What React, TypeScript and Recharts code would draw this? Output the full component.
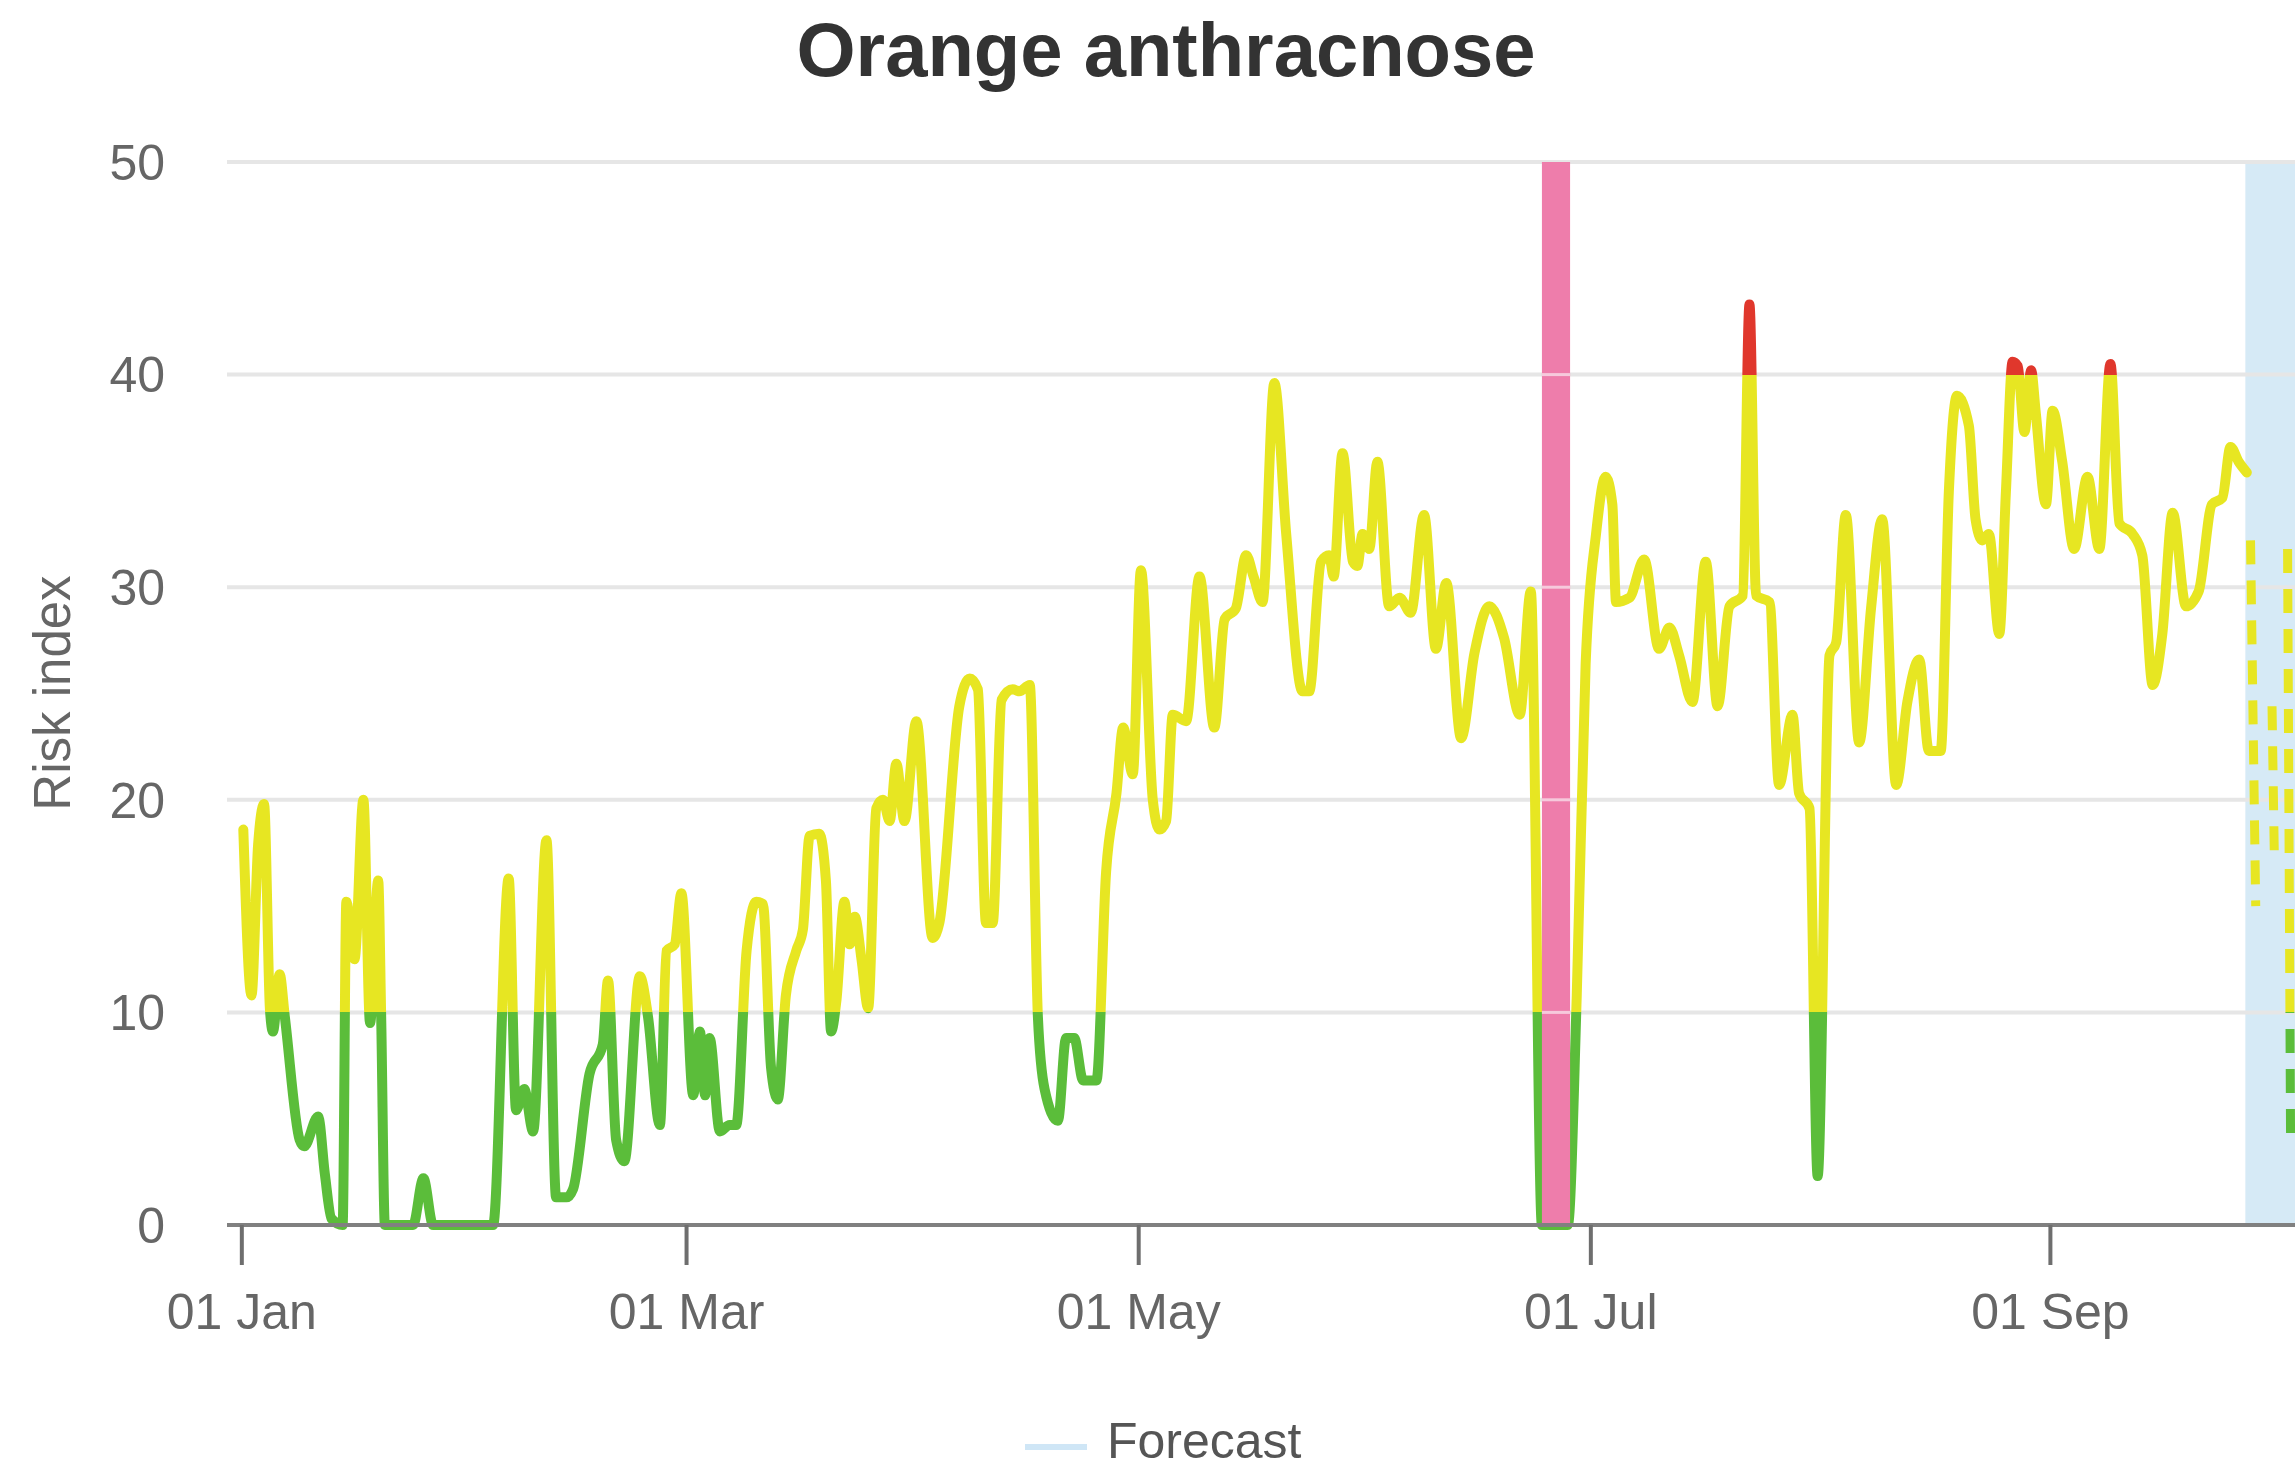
import React from "react"
import { LineChart, Line, XAxis, YAxis, CartesianGrid, ReferenceArea, ReferenceLine } from "recharts"

// day 0 = 01 Jan (leap year)
const days = [
  0.2, 1.3, 2.2, 3.0, 3.8, 4.2, 5.1, 5.8, 7.8, 8.4,
  10.3, 11.2, 12.1, 13.6, 14.1, 15.2, 16.4, 17.3, 18.4, 18.8,
  19.3, 23.1, 24.5, 25.8, 33.9, 36.0, 37.0, 38.1, 39.3, 41.1,
  42.4, 43.8, 44.7, 46.9, 48.7, 49.4, 50.5, 51.6, 53.7, 54.8,
  56.4, 57.3, 58.4, 59.3, 60.9, 61.8, 62.5, 63.1, 64.5, 65.8,
  66.7, 68.1, 69.4, 70.3, 71.4, 72.3, 73.4, 74.8, 75.7, 76.6,
  77.9, 78.8, 79.5, 80.2, 81.3, 82.0, 82.7, 83.6, 84.5, 85.6,
  86.5, 87.4, 88.3, 89.4, 91.0, 93.2, 94.1, 96.8, 98.2, 99.3,
  100.4, 101.3, 102.5, 104.0, 104.9, 106.3, 107.4, 108.3, 110.1, 111.2,
  112.3, 113.5, 115.3, 116.6, 118.0, 118.9, 120.2, 121.3, 122.9, 123.8,
  124.7, 125.6, 127.4, 129.2, 131.2, 132.6, 134.1, 135.5, 136.5, 137.7,
  139.3, 140.9, 143.1, 144.0, 145.6, 146.7, 147.3, 148.5, 149.9, 150.5,
  151.2, 152.1, 153.2, 154.8, 156.2, 157.7, 159.5, 161.1, 162.5, 164.5,
  166.3, 168.3, 170.3, 172.4, 173.9, 175.4, 178.9, 180.1, 181.3, 182.7,
  184.0, 184.9, 185.4, 187.2, 189.2, 191.2, 192.6, 193.9, 195.7, 197.5,
  199.1, 200.7, 202.5, 203.4, 204.3, 206.1, 207.4, 209.2, 210.1, 211.5,
  212.6, 214.2, 215.1, 216.4, 218.2, 219.8, 221.3, 223.2, 224.7, 226.3,
  227.6, 229.2, 230.3, 231.4, 233.0, 233.9, 234.8, 235.7, 237.1, 238.0,
  238.9, 239.6, 240.5, 241.4, 242.0, 243.4, 244.3, 245.6, 247.2, 249.0,
  250.6, 252.1, 253.3, 255.1, 256.4, 257.8, 259.1, 260.5, 262.3, 264.0,
  265.8, 267.2, 268.3, 269.4, 270.5,
]

const risk = [
  18.6, 10.8, 17.9, 19.8, 10.1, 9.1, 11.8, 9.8, 4.0, 3.7,
  5.1, 2.4, 0.3, 0, 15.2, 12.5, 20.0, 9.5, 16.2, 9.8,
  0, 0, 2.2, 0, 0, 16.3, 5.4, 6.4, 4.4, 18.1,
  1.3, 1.3, 1.7, 7.1, 8.5, 11.5, 4.0, 3.0, 11.7, 9.8,
  4.7, 12.9, 13.2, 15.6, 6.1, 9.1, 6.1, 8.8, 4.4, 4.7,
  4.7, 12.9, 15.2, 15.1, 7.4, 5.9, 10.8, 12.9, 13.9, 18.3,
  18.4, 16.2, 9.1, 10.5, 15.2, 13.2, 14.5, 12.5, 10.2, 19.6,
  20.0, 19.0, 21.7, 19.0, 23.7, 13.5, 14.2, 24.4, 25.7, 25.2,
  14.2, 14.2, 24.7, 25.2, 25.1, 25.4, 9.8, 6.4, 4.9, 8.8,
  8.8, 6.8, 6.8, 16.6, 20.3, 23.4, 21.2, 30.8, 20.0, 18.6,
  19.0, 24.0, 23.7, 30.5, 23.4, 28.5, 29.0, 31.5, 30.5, 29.3,
  39.6, 32.5, 25.1, 25.1, 31.2, 31.5, 30.5, 36.3, 31.2, 31.0,
  32.5, 31.8, 35.9, 29.1, 29.5, 28.8, 33.4, 27.1, 30.2, 22.9,
  26.9, 29.1, 27.6, 24.0, 29.8, 0, 0, 10.8, 26.4, 32.5,
  35.2, 33.9, 29.3, 29.5, 31.3, 27.1, 28.1, 26.8, 24.6, 31.2,
  24.4, 29.1, 29.6, 43.3, 29.6, 29.3, 20.7, 24.0, 20.3, 19.6,
  2.3, 26.8, 27.4, 33.4, 22.7, 29.0, 33.2, 20.7, 24.6, 26.6,
  22.3, 22.3, 34.5, 39.0, 37.6, 33.2, 32.2, 32.5, 27.8, 34.5,
  40.6, 40.4, 37.3, 40.2, 38.3, 33.9, 38.3, 35.9, 31.8, 35.2,
  31.8, 40.5, 33.0, 32.5, 31.5, 25.4, 27.8, 33.5, 29.1, 29.8,
  33.9, 34.2, 36.6, 35.9, 35.4,
]

// forecast runs (dashed)
const fcDaysA = [271.0, 271.7]
const fcRiskA = [32.2, 15.0]
const fcDaysB = [273.9, 274.2]
const fcRiskB = [24.4, 17.6]
const fcDaysC = [276.0, 276.4]
const fcRiskC = [31.8, 4.2]

const tickDays = [0, 60, 121, 182, 244]
const tickLabels = ["01 Jan", "01 Mar", "01 May", "01 Jul", "01 Sep"]
const yTicks = [0, 10, 20, 30, 40, 50]
const riskLevels = [10, 40] // green below, red above

const alertBand = [175.4, 179.2]
const forecastBand = [270.3, 277]
const xDomain = [-2, 277]

const W = 2295
const H = 1470
const PLOT_TOP = 162
const PLOT_BOTTOM = 1225
const FONT = '"Liberation Sans", Arial, Helvetica, sans-serif'

const GREEN = "#5bbd3a"
const YELLOW = "#e7e622"
const RED = "#e0372c"

const toData = (xs: number[], ys: number[]) => xs.map((d, i) => ({ day: d, risk: ys[i] }))

const mainData = toData(days, risk)
const fcA = toData(fcDaysA, fcRiskA)
const fcB = toData(fcDaysB, fcRiskB)
const fcC = toData(fcDaysC, fcRiskC)

export default function App() {
  const yMax = yTicks[yTicks.length - 1]
  const offHigh = (yMax - riskLevels[1]) / yMax
  const offLow = (yMax - riskLevels[0]) / yMax

  return (
    <div style={{ position: "absolute", left: 0, top: 0, width: W, height: H, overflow: "hidden", background: "#fff", fontFamily: FONT }}>
      <div
        style={{
          position: "absolute",
          left: 1166,
          top: 12,
          transform: "translateX(-50%)",
          fontSize: 76,
          lineHeight: 1,
          fontWeight: "bold",
          color: "#333",
          whiteSpace: "nowrap",
        }}
      >
        Orange anthracnose
      </div>

      <div
        style={{
          position: "absolute",
          left: 52,
          top: 693,
          transform: "translate(-50%, -50%) rotate(-90deg)",
          fontSize: 51,
          lineHeight: 1,
          color: "#666",
          whiteSpace: "nowrap",
        }}
      >
        Risk index
      </div>

      <LineChart width={W} height={H} margin={{ top: PLOT_TOP, right: 0, bottom: 125, left: 0 }}>
        <defs>
          <linearGradient id="riskStroke" gradientUnits="userSpaceOnUse" x1={0} x2={0} y1={PLOT_TOP} y2={PLOT_BOTTOM}>
            <stop offset={offHigh} stopColor={RED} />
            <stop offset={offHigh} stopColor={YELLOW} />
            <stop offset={offLow} stopColor={YELLOW} />
            <stop offset={offLow} stopColor={GREEN} />
          </linearGradient>
        </defs>
        <ReferenceArea
          x1={forecastBand[0]}
          x2={forecastBand[1]}
          y1={0}
          y2={yMax}
          fill="#d6eaf6"
          fillOpacity={1}
          stroke="none"
          ifOverflow="hidden"
          zIndex={-150}
        />
        <CartesianGrid vertical={false} stroke="#e6e6e6" strokeWidth={4} />
        <XAxis
          type="number"
          dataKey="day"
          domain={xDomain}
          allowDataOverflow
          ticks={tickDays}
          interval={0}
          tickFormatter={(d: number) => tickLabels[tickDays.indexOf(d)]}
          height={120}
          tickSize={40}
          tickMargin={28}
          axisLine={{ stroke: "#808080", strokeWidth: 4 }}
          tickLine={{ stroke: "#6e6e6e", strokeWidth: 4 }}
          tick={{ fill: "#666", fontSize: 50, fontFamily: FONT }}
        />
        <YAxis
          type="number"
          domain={[0, yMax]}
          ticks={yTicks}
          width={227}
          axisLine={false}
          tickLine={false}
          tickSize={0}
          tickMargin={62}
          tick={{ fill: "#666", fontSize: 50, fontFamily: FONT }}
        />
        <Line
          data={mainData}
          dataKey="risk"
          type="monotone"
          stroke="url(#riskStroke)"
          strokeWidth={10}
          strokeLinejoin="round"
          strokeLinecap="round"
          dot={false}
          activeDot={false}
          isAnimationActive={false}
        />
        {[fcA, fcB, fcC].map((d, i) => (
          <Line
            key={i}
            data={d}
            dataKey="risk"
            type="linear"
            stroke="url(#riskStroke)"
            strokeWidth={9}
            strokeDasharray="24 16"
            dot={false}
            activeDot={false}
            isAnimationActive={false}
          />
        ))}
        <ReferenceArea
          x1={alertBand[0]}
          x2={alertBand[1]}
          y1={0}
          y2={yMax}
          fill="#ee7dab"
          fillOpacity={1}
          stroke="none"
          zIndex={450}
        />
        {yTicks.slice(1, -1).map((v) => (
          <ReferenceLine
            key={v}
            segment={[
              { x: alertBand[0], y: v },
              { x: alertBand[1], y: v },
            ]}
            stroke="#f6c9dc"
            strokeWidth={3}
            zIndex={460}
          />
        ))}
      </LineChart>

      <div style={{ position: "absolute", left: 1025, top: 1444, width: 62, height: 6, background: "#cfe6f6" }} />
      <div
        style={{
          position: "absolute",
          left: 1107,
          top: 1416,
          fontSize: 50,
          lineHeight: 1,
          color: "#555",
          whiteSpace: "nowrap",
        }}
      >
        Forecast
      </div>
    </div>
  )
}
